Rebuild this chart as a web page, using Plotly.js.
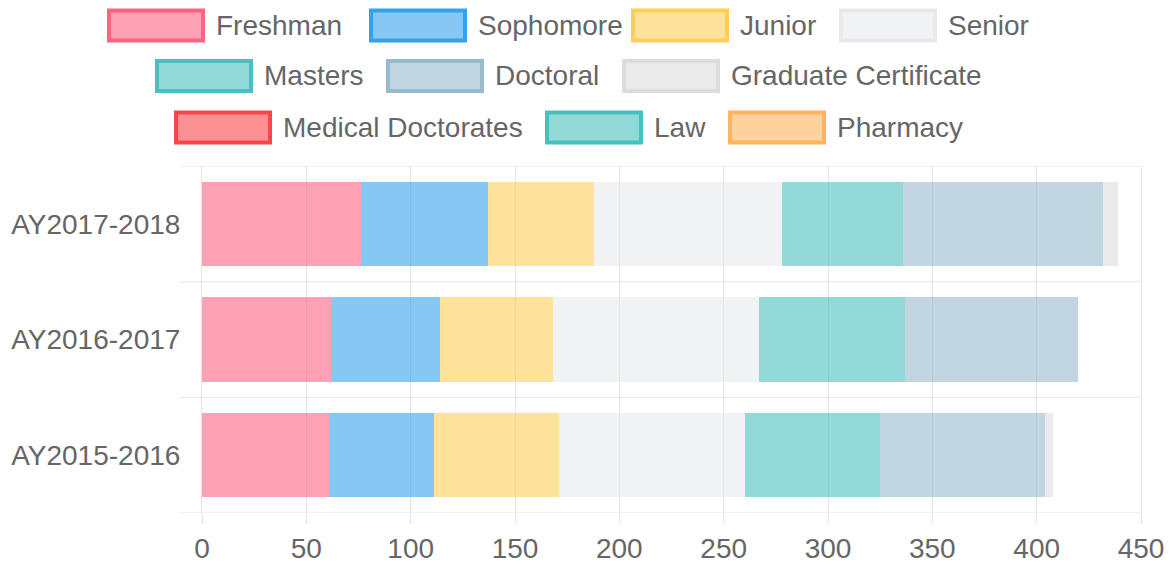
<!DOCTYPE html>
<html>
<head>
<meta charset="utf-8">
<script src="https://cdn.plot.ly/plotly-3.0.1.min.js"></script>
<style>html,body{margin:0;padding:0;background:#fff;}#chart{width:1170px;height:564px;}</style>
</head>
<body>
<div id="chart"></div>
<script>
// ---- data ----
var years = ['AY2017-2018', 'AY2016-2017', 'AY2015-2016'];
var seriesNames = ['Freshman', 'Sophomore', 'Junior', 'Senior', 'Masters', 'Doctoral',
  'Graduate Certificate', 'Medical Doctorates', 'Law', 'Pharmacy'];
var freshman = [76, 62, 61];
var sophomore = [61, 52, 50];
var junior = [51, 54, 60];
var senior = [90, 99, 89];
var masters = [58, 70, 65];
var doctoral = [96, 83, 79];
var gradCert = [7, 0, 4];
var medical = [0, 0, 0];
var law = [0, 0, 0];
var pharmacy = [0, 0, 0];
var xTicks = [0, 50, 100, 150, 200, 250, 300, 350, 400, 450];

// ---- styles ----
var borderColors = ['rgb(255,99,132)', 'rgb(54,162,235)', 'rgb(255,206,86)', 'rgb(231,233,237)',
  'rgb(75,192,192)', 'rgb(151,187,205)', 'rgb(220,220,220)', 'rgb(247,70,74)',
  'rgb(70,191,189)', 'rgb(253,180,92)'];
var fillColors = ['rgba(255,99,132,0.6)', 'rgba(54,162,235,0.6)', 'rgba(255,206,86,0.6)', 'rgba(231,233,237,0.6)',
  'rgba(75,192,192,0.6)', 'rgba(151,187,205,0.6)', 'rgba(220,220,220,0.6)', 'rgba(247,70,74,0.6)',
  'rgba(70,191,189,0.6)', 'rgba(253,180,92,0.6)'];
var allSeries = [freshman, sophomore, junior, senior, masters, doctoral, gradCert, medical, law, pharmacy];

var traces = allSeries.map(function (vals, i) {
  return {
    type: 'bar', orientation: 'h', name: seriesNames[i],
    y: years, x: vals,
    marker: { color: fillColors[i], line: { width: 0 } },
    hoverinfo: 'x+name'
  };
});

// ---- layout helpers (pixel -> paper) ----
var W = 1170, H = 564, mL = 202, mR = 29, mT = 166, mB = 51;
var pw = W - mL - mR, ph = H - mT - mB;
function px(x) { return (x - mL) / pw; }
function py(y) { return (H - mB - y) / ph; }

var gridCol = 'rgba(0,0,0,0.1)';
var shapes = [];
[-0.5, 0.5, 1.5, 2.5].forEach(function (v) {
  shapes.push({ type: 'line', xref: 'paper', yref: 'y', x0: px(180), x1: 1, y0: v, y1: v,
    line: { color: gridCol, width: 1 }, layer: 'below' });
});

// custom legend (Chart.js style boxes)
var legendRows = [
  { y: 25.5, items: [[0, 107], [1, 369], [2, 631], [3, 839]] },
  { y: 76, items: [[4, 155], [5, 386], [6, 622]] },
  { y: 127.5, items: [[7, 174], [8, 545], [9, 728]] }
];
var annotations = [];
legendRows.forEach(function (row) {
  row.items.forEach(function (it) {
    var i = it[0], x = it[1];
    shapes.push({ type: 'rect', xref: 'paper', yref: 'paper',
      x0: px(x + 2), x1: px(x + 96), y0: py(row.y - 15), y1: py(row.y + 15),
      line: { color: borderColors[i], width: 4 }, fillcolor: fillColors[i] });
    annotations.push({ xref: 'paper', yref: 'paper', x: px(x + 107), y: py(row.y),
      xanchor: 'left', yanchor: 'middle', showarrow: false, text: seriesNames[i],
      font: { family: 'Liberation Sans, Arial, sans-serif', size: 28, color: '#666' } });
  });
});

var layout = {
  width: W, height: H,
  margin: { l: mL, r: mR, t: mT, b: mB, pad: 0 },
  paper_bgcolor: '#fff', plot_bgcolor: '#fff',
  barmode: 'stack', bargap: 0.27,
  showlegend: false,
  font: { family: 'Liberation Sans, Arial, sans-serif', size: 28, color: '#666' },
  xaxis: {
    range: [0, 450], tickvals: xTicks, ticktext: xTicks.map(String),
    showgrid: true, gridcolor: gridCol, gridwidth: 1, zeroline: false,
    ticks: 'outside', ticklen: 10, tickcolor: gridCol, tickwidth: 1,
    showline: false, ticklabelstandoff: 0,
    tickfont: { size: 28, color: '#666' }, fixedrange: true
  },
  yaxis: {
    type: 'category', categoryorder: 'array', categoryarray: years,
    range: [2.5, -0.5], showgrid: false, zeroline: false,
    showline: true, mirror: true, linecolor: gridCol, linewidth: 1,
    ticks: '', ticklabelstandoff: 15,
    tickfont: { size: 28, color: '#666' }, fixedrange: true
  },
  shapes: shapes,
  annotations: annotations
};

Plotly.newPlot('chart', traces, layout, { displayModeBar: false, staticPlot: true });
</script>
</body>
</html>
